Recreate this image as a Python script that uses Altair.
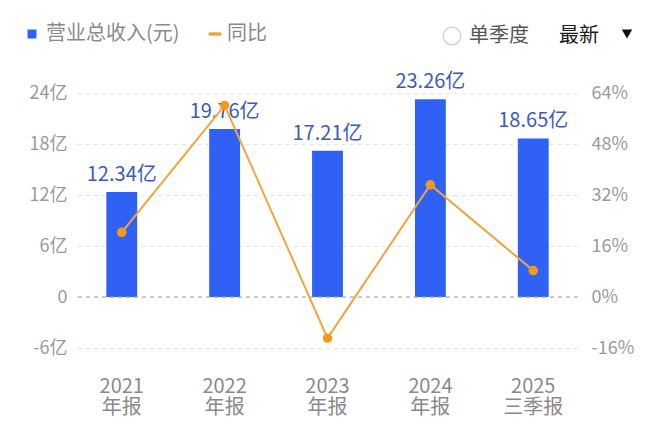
import altair as alt
import pandas as pd

periods = ["2021\n年报", "2022\n年报", "2023\n年报", "2024\n年报", "2025\n三季报"]
revenue = [12.34, 19.76, 17.21, 23.26, 18.65]          # 亿元
revenue_labels = ["12.34亿", "19.76亿", "17.21亿", "23.26亿", "18.65亿"]
yoy = [20.3, 60.1, -12.9, 35.2, 8.3]                     # %

left_ticks = [-6, 0, 6, 12, 18, 24]
right_ticks = [-16, 0, 16, 32, 48, 64]

FONT = "Noto Sans CJK SC"
BAR = "#2f62f4"
LINE = "#efa53c"
DOT = "#f39a1b"

df = pd.DataFrame({"period": periods, "revenue": revenue,
                   "label": revenue_labels, "yoy": yoy})

xenc = alt.X("period:N", sort=periods, title=None,
             scale=alt.Scale(paddingInner=0.7, paddingOuter=0.285),
             axis=alt.Axis(labelExpr="split(datum.value, '\\n')", labelAngle=0,
                           labelFontSize=20, labelColor="#8a8a8a", labelFont=FONT,
                           labelLineHeight=21, labelPadding=28, labelBaseline="top",
                           labelOverlap=False,
                           ticks=False, domain=False, grid=False))

yleft = alt.Y("revenue:Q", title=None,
              scale=alt.Scale(domain=[-6, 24], nice=False, zero=False),
              axis=alt.Axis(values=left_ticks,
                            labelExpr="datum.value == 0 ? '0' : datum.value + '亿'",
                            labelFontSize=18, labelColor="#9a9a9a", labelFont=FONT,
                            labelPadding=10, ticks=False, domain=False,
                            grid=True, gridColor="#e3e3e3", gridDash=[4, 4],
                            gridWidth=1))

base = alt.Chart(df)

bars = base.mark_bar(color=BAR).encode(x=xenc, y=yleft)

bar_text = base.mark_text(baseline="bottom", dy=-7, fontSize=20, font=FONT,
                          color="#3b5cba").encode(
    x=alt.X("period:N", sort=periods), y=alt.Y("revenue:Q"), text="label:N")

zero_rule = alt.Chart(pd.DataFrame({"z": [0]})).mark_rule(
    color="#a0a0a0", strokeDash=[4, 4], strokeWidth=1.2).encode(y=alt.Y("z:Q"))

left_layer = alt.layer(bars, zero_rule, bar_text)

yright = alt.Y("yoy:Q", title=None,
               scale=alt.Scale(domain=[-16, 64], nice=False, zero=False),
               axis=alt.Axis(orient="right", values=right_ticks,
                             labelExpr="datum.value + '%'",
                             labelFontSize=18, labelColor="#9a9a9a", labelFont=FONT,
                             labelPadding=13, ticks=False, domain=False, grid=False))

line = base.mark_line(color=LINE, strokeWidth=2).encode(
    x=alt.X("period:N", sort=periods), y=yright)
pts = base.mark_point(filled=True, color=DOT, size=90, opacity=1).encode(
    x=alt.X("period:N", sort=periods), y=alt.Y("yoy:Q"))

right_layer = alt.layer(line, pts)

one = pd.DataFrame({"k": [0]})

def txt(s, x, y, color="#8a8a8a", weight="normal", size=20):
    return alt.Chart(one).mark_text(text=s, align="left", baseline="middle",
                                    fontSize=size, font=FONT, color=color,
                                    fontWeight=weight).encode(
        x=alt.value(x), y=alt.value(y))

legend_sq = alt.Chart(one).mark_square(color=BAR, size=81, opacity=1).encode(
    x=alt.value(-45), y=alt.value(-59))
legend_dash = alt.Chart(one).mark_rule(color=LINE, strokeWidth=3.5, strokeCap="round").encode(
    x=alt.value(133), x2=alt.value(143), y=alt.value(-59))
radio = alt.Chart(one).mark_point(shape="circle", size=314, color="#cfcfcf",
                                  strokeWidth=1.3, filled=False, opacity=1).encode(
    x=alt.value(375), y=alt.value(-57))
tri = alt.Chart(one).mark_point(shape="triangle-down", size=110, color="#111111",
                                filled=True, opacity=1).encode(
    x=alt.value(550), y=alt.value(-59))

header = alt.layer(
    legend_sq, txt("营业总收入(元)", -31, -59),
    legend_dash, txt("同比", 150, -59),
    radio, txt("单季度", 392, -57, color="#555555"),
    txt("最新", 482, -57, color="#1a1a1a"),
    tri,
)

chart = alt.layer(left_layer, right_layer, header).resolve_scale(
    y="independent"
).properties(
    width=501, height=255,
    autosize=alt.AutoSizeParams(type="none"),
    padding={"left": 69, "top": 85, "right": 74, "bottom": 74},
    background="white",
).configure_view(stroke=None)

chart.save("out.html", embed_options={"renderer": "svg", "actions": False})
